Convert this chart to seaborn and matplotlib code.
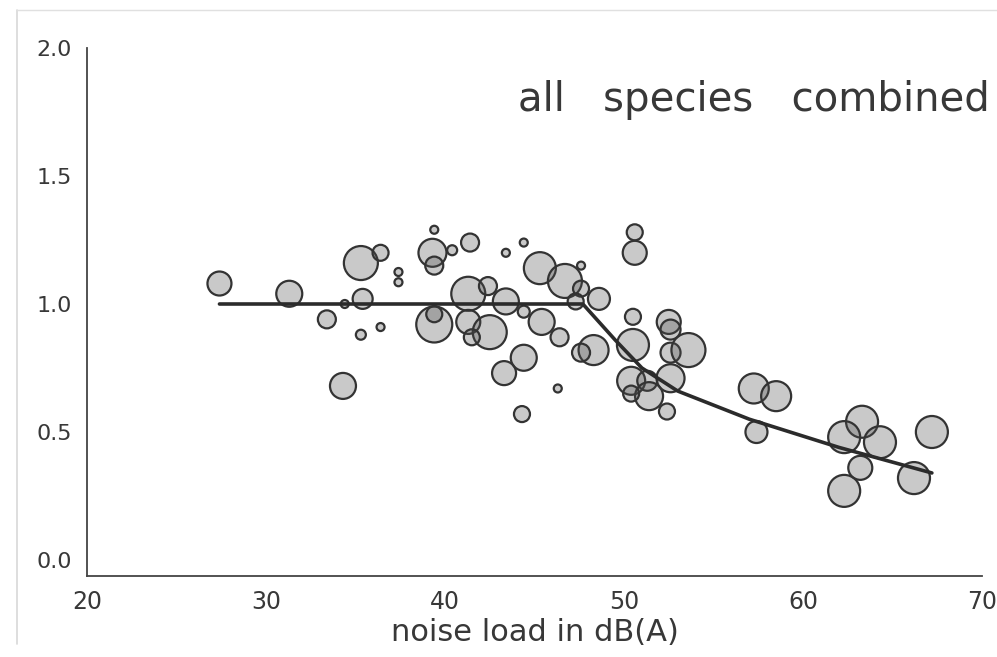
import numpy as np
import pandas as pd
import matplotlib
matplotlib.use("Agg")
import matplotlib.pyplot as plt
import seaborn as sns

# ---- data ----
noise_db = [27.4, 31.3, 33.4, 34.3, 34.4, 35.3, 35.4, 35.3, 36.4, 36.4,
            37.4, 37.4, 39.4, 39.3, 39.4, 40.4, 41.4, 39.4, 39.4, 41.3,
            42.4, 41.3, 42.5, 41.5, 43.4, 43.4, 44.4, 44.4, 43.3, 44.3,
            45.3, 46.7, 47.6, 47.6, 48.6, 47.3, 45.4, 46.4, 46.3, 44.4,
            50.6, 50.6, 50.5, 50.5, 48.3, 47.6, 52.5, 52.6, 52.6, 53.6,
            50.4, 51.3, 52.6, 51.4, 50.4, 52.4, 57.25, 58.5, 57.4, 63.3,
            62.3, 64.3, 63.2, 62.3, 66.2, 67.2]
density = [1.08, 1.04, 0.94, 0.68, 1.00, 1.16, 1.02, 0.88, 1.20, 0.91,
           1.125, 1.085, 1.29, 1.20, 1.15, 1.21, 1.24, 0.92, 0.96, 1.04,
           1.07, 0.93, 0.89, 0.87, 1.01, 1.20, 1.24, 0.79, 0.73, 0.57,
           1.14, 1.09, 1.15, 1.06, 1.02, 1.01, 0.93, 0.87, 0.67, 0.97,
           1.28, 1.20, 0.95, 0.84, 0.82, 0.81, 0.93, 0.90, 0.81, 0.82,
           0.70, 0.70, 0.71, 0.64, 0.65, 0.58, 0.67, 0.64, 0.50, 0.54,
           0.48, 0.46, 0.36, 0.27, 0.32, 0.50]
bubble_radius = [12, 13, 9, 13, 4, 17, 10, 5, 8, 4,
                 4, 4, 4, 14, 9, 5, 9, 18, 8, 17,
                 9, 12, 17, 8, 13, 4, 4, 13, 12, 8,
                 16, 17, 4, 8, 11, 8, 13, 9, 4, 6,
                 8, 12, 8, 16, 15, 9, 12, 10, 10, 17,
                 14, 10, 14, 14, 8, 8, 15, 15, 11, 16,
                 16, 16, 12, 16, 16, 16]

fit_db = [27.4, 47.7, 49.5, 51.0, 53.0, 57.0, 62.0, 67.2]
fit_val = [1.00, 1.00, 0.86, 0.75, 0.66, 0.55, 0.44, 0.34]

x_ticks = [20, 30, 40, 50, 60, 70]
y_ticks = [0.0, 0.5, 1.0, 1.5, 2.0]

df = pd.DataFrame({"db": noise_db, "val": density,
                   "w": np.array(bubble_radius, dtype=float) ** 2})

sns.set_style("white")
plt.rcParams["font.family"] = ["DejaVu Sans"]

fig = plt.figure(figsize=(9.97, 6.57), dpi=100)
ax = fig.add_axes([87 / 997, 81 / 657, (982 - 87) / 997, (576 - 48) / 657])

k = (1.44) ** 2
wmin, wmax = df["w"].min(), df["w"].max()
sns.scatterplot(data=df, x="db", y="val", size="w",
                sizes=(k * wmin, k * wmax), size_norm=(wmin, wmax),
                legend=False, ax=ax, zorder=2)
pts = ax.collections[0]
pts.set_alpha(None)
pts.set_facecolor((0.30, 0.30, 0.30, 0.30))
pts.set_edgecolor("#333333")
pts.set_linewidth(1.6)

sns.lineplot(x=fit_db, y=fit_val, sort=False, color="#2b2b2b",
             linewidth=2.6, ax=ax, zorder=3)

ax.set_xlim(20, 70)
ax.set_ylim(-0.0625, 2.0)
ax.set_xticks(x_ticks)
ax.set_yticks(y_ticks)
ax.set_xticklabels([str(t) for t in x_ticks])
ax.set_yticklabels([f"{t:.1f}" for t in y_ticks])

for s in ["top", "right"]:
    ax.spines[s].set_visible(False)
for s in ["left", "bottom"]:
    ax.spines[s].set_color("#444444")
    ax.spines[s].set_linewidth(1.3)

ax.tick_params(axis="x", direction="in", length=9, width=1.2,
               colors="#444444", labelsize=17, labelcolor="#383838", pad=10)
ax.tick_params(axis="y", direction="out", length=9, width=1.2,
               colors="#444444", labelsize=16, labelcolor="#383838", pad=2)

ax.set_xlabel("noise load in dB(A)", fontsize=22, color="#383838", labelpad=3)
ax.set_ylabel("")
ax.grid(False)

fig.text(990 / 997, 1 - 100 / 657, "all   species   combined",
         ha="right", va="center", fontsize=29, color="#383838")

# faint scan frame
fig.add_artist(plt.Line2D([17 / 997, 17 / 997], [0.02, 0.985],
                          color="#d8d8d8", lw=1.2))
fig.add_artist(plt.Line2D([17 / 997, 1.0], [0.985, 0.985],
                          color="#e0e0e0", lw=1.0))

fig.savefig("out.png", dpi=100)
